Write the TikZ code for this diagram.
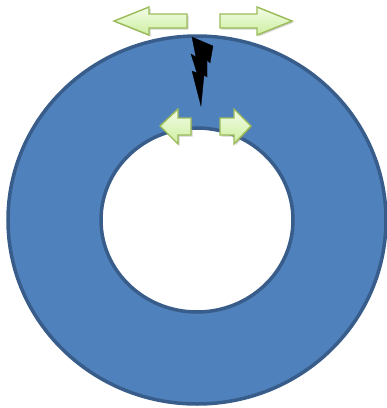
\documentclass[tikz,border=0pt]{standalone}
\usetikzlibrary{shadows}
\definecolor{ringfill}{HTML}{4F81BD}
\definecolor{ringline}{HTML}{385D8A}
\definecolor{arrline}{HTML}{9BBB59}
\definecolor{arrtop}{HTML}{F2FCE6}
\definecolor{arrbot}{HTML}{CDEFA0}
\begin{document}
\begin{tikzpicture}[x=1pt,y=-1pt,
  ring/.style={fill=ringfill,draw=ringline,line width=3.5pt,even odd rule},
  greenarrow/.style={draw=arrline,line width=1.4pt,top color=arrtop,bottom color=arrbot,
    drop shadow={opacity=0.35,shadow xshift=1.5pt,shadow yshift=-1.5pt}},
  bolt/.style={fill=black,draw=black,line width=0.3pt}]
\useasboundingbox (0,0) rectangle (387,408);
% ring
\path[ring] (197,220) ellipse [x radius=189,y radius=184]
            (197,220) ellipse [x radius=96,y radius=92];
% lightning
\path[bolt] (192,37) -- (213,46) -- (210,63) -- (207,60) -- (207,77) -- (204,75)
  -- (201,106) -- (192,71) -- (197,73) -- (191,54) -- (196,57) -- cycle;
% large arrows
\path[greenarrow] (187,14) -- (149,14) -- (149,7) -- (114,21) -- (149,35) -- (149,28) -- (187,28) -- cycle;
\path[greenarrow] (220,14) -- (257,14) -- (257,7) -- (292,21) -- (257,35) -- (257,28) -- (220,28) -- cycle;
% small arrows
\path[greenarrow] (191,118) -- (178,118) -- (178,109) -- (160,126) -- (178,144) -- (178,135) -- (191,135) -- cycle;
\path[greenarrow] (220,118) -- (234,118) -- (234,109) -- (251,126) -- (234,144) -- (234,135) -- (220,135) -- cycle;
\end{tikzpicture}
\end{document}
